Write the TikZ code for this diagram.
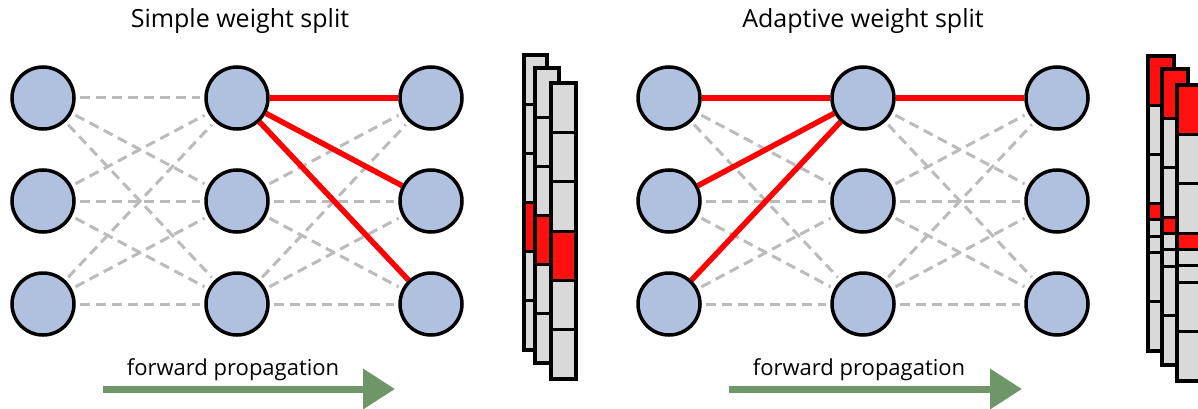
\documentclass[tikz,border=0pt]{standalone}
\usepackage{fontspec}
\setmainfont{Open Sans}
\usetikzlibrary{arrows.meta}
\definecolor{nodefill}{RGB}{176,193,224}
\definecolor{edgegray}{RGB}{187,187,187}
\definecolor{redline}{RGB}{255,0,0}
\definecolor{arrowgreen}{RGB}{111,150,105}
\definecolor{cellgray}{RGB}{217,217,217}
\definecolor{cellred}{RGB}{255,16,16}
\newcommand{\wstrip}[5]{%
  \fill[black] (#1,#2) rectangle ++(#3,#4);
  \foreach \pa/\pb/\pcol in #5{%
    \fill[\pcol] ({#1+4},{#2+2.5+\pa*(#4-5)+1.5}) rectangle ({#1+#3-4},{#2+2.5+\pb*(#4-5)-1.5});
  }%
}
\newcommand{\leftcells}{0/0.16667/cellgray,0.16667/0.33333/cellgray,0.33333/0.5/cellgray,0.5/0.66667/cellred,0.66667/0.83333/cellgray,0.83333/1/cellgray}
\newcommand{\rightcells}{0/0.16667/cellred,0.16667/0.33333/cellgray,0.33333/0.5/cellgray,0.5/0.55556/cellred,0.55556/0.61111/cellgray,0.61111/0.66667/cellgray,0.66667/0.83333/cellgray,0.83333/1/cellgray}
\tikzset{
  neuron/.style={circle, draw=black, line width=3.5pt, fill=nodefill, minimum size=62pt, inner sep=0pt},
  weak/.style={draw=edgegray, line width=3pt, dash pattern=on 10pt off 6pt, shorten <=4pt, shorten >=4pt},
  strong/.style={draw=redline, line width=5.5pt},
  flow/.style={draw=arrowgreen, line width=7pt, -{Triangle[length=32pt,width=39pt]}},
  lbl/.style={font=\fontsize{22}{26}\selectfont, anchor=base, inner sep=0pt},
  ttl/.style={font=\fontsize{25}{30}\selectfont, anchor=base, inner sep=0pt}
}
\begin{document}
\begin{tikzpicture}[x=1pt,y=-1pt]
\useasboundingbox (0,0) rectangle (1198,409);
\begin{scope}
\clip (0,0) rectangle (1198,409);
% titles
\node[ttl] (t1) at (240,28) {Simple weight split};
\node[ttl] (t2) at (863,28) {Adaptive weight split};
% networks
\foreach \n/\x/\y in {la/43/98,lb/43/201,lc/43/304,ma/237/98,mb/237/201,mc/237/304,ra/431/98,rb/431/201,rc/431/304}
  \node[neuron] (L\n) at (\x,\y) {};
\foreach \n/\x/\y in {la/669/98,lb/669/201,lc/669/304,ma/863/98,mb/863/201,mc/863/304,ra/1057/98,rb/1057/201,rc/1057/304}
  \node[neuron] (R\n) at (\x,\y) {};
\foreach \p in {L,R}{
  \foreach \i in {a,b,c}{
    \foreach \j in {a,b,c}{
      \draw[weak] (\p l\i) -- (\p m\j);
      \draw[weak] (\p m\i) -- (\p r\j);
    }
  }
}
\draw[strong] (Lma) -- (Lra);
\draw[strong] (Lma) -- (Lrb);
\draw[strong] (Lma) -- (Lrc);
\draw[strong] (Rla) -- (Rma);
\draw[strong] (Rlb) -- (Rma);
\draw[strong] (Rlc) -- (Rma);
\draw[strong] (Rma) -- (Rra);
% strips
\wstrip{522}{53}{27}{299}{\leftcells}
\wstrip{533}{66}{28}{299}{\leftcells}
\wstrip{549}{81}{29}{300}{\leftcells}
\wstrip{1146}{54}{30}{299}{\rightcells}
\wstrip{1160}{67}{30}{300}{\rightcells}
\wstrip{1175}{83}{30}{300}{\rightcells}
% arrows
\node[lbl] (f1) at (233,375) {forward propagation};
\node[lbl] (f2) at (859,375) {forward propagation};
\coordinate (a1s) at (103,389);
\coordinate (a1e) at (395,389);
\coordinate (a2s) at (729,389);
\coordinate (a2e) at (1022,389);
\draw[flow] (a1s) -- (a1e);
\draw[flow] (a2s) -- (a2e);
\end{scope}
\end{tikzpicture}
\end{document}
